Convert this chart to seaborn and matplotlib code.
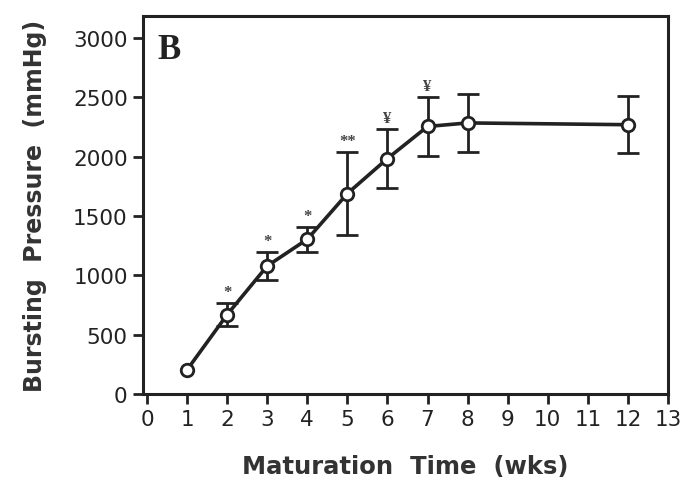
import numpy as np
import pandas as pd
import matplotlib
matplotlib.use("Agg")
import matplotlib.pyplot as plt
import seaborn as sns

# datos
semanas = [1, 2, 3, 4, 5, 6, 7, 8, 12]
presion = [205, 670, 1080, 1305, 1690, 1985, 2255, 2285, 2270]
error = [0, 100, 115, 105, 350, 250, 250, 245, 240]
marcas = ["", "*", "*", "*", "**", "¥", "¥", "", ""]

sns.set_style("ticks")
plt.rcParams["font.family"] = ["DejaVu Sans"]

df = pd.DataFrame({"Semana": semanas, "Presion": presion, "Error": error, "Marca": marcas})

fig = plt.figure(figsize=(6.99, 4.89), dpi=100)
ax = fig.add_axes([0.2046, 0.192, 0.751, 0.773])

# barras de error solo donde hay error
con_err = df[df["Error"] > 0]
ax.errorbar(con_err["Semana"], con_err["Presion"], yerr=con_err["Error"], fmt="none",
            ecolor="#222222", elinewidth=2, capsize=8, capthick=2, zorder=2)

sns.lineplot(data=df, x="Semana", y="Presion", ax=ax, color="#222222", linewidth=2.6,
             marker="o", markersize=9, markerfacecolor="white", markeredgecolor="#222222",
             markeredgewidth=2, zorder=3)

# asteriscos de significancia
for _, fila in df.iterrows():
    if fila["Marca"]:
        ax.text(fila["Semana"], fila["Presion"] + fila["Error"] + 25, fila["Marca"],
                ha="center", va="bottom", fontsize=12, color="#444444",
                family="Liberation Serif", fontweight="bold")

ax.text(0.25, 2900, "B", fontsize=25, fontweight="bold", family="Liberation Serif",
        ha="left", va="center", color="#222222")

ax.set_xlim(-0.1, 13)
ax.set_ylim(0, 3185)
ax.set_xticks(range(0, 14))
ax.set_yticks(range(0, 3001, 500))
ax.tick_params(axis="both", labelsize=15.5, length=7, width=2, direction="out",
               colors="#222222", pad=4)
for s in ax.spines.values():
    s.set_linewidth(2.2)
    s.set_color("#222222")

ax.set_xlabel("Maturation  Time  (wks)", fontsize=17.5, fontweight="bold", color="#333333", labelpad=18)
ax.set_ylabel("Bursting  Pressure  (mmHg)", fontsize=17, fontweight="bold", color="#333333", labelpad=19)

fig.savefig("out.png", dpi=100)
